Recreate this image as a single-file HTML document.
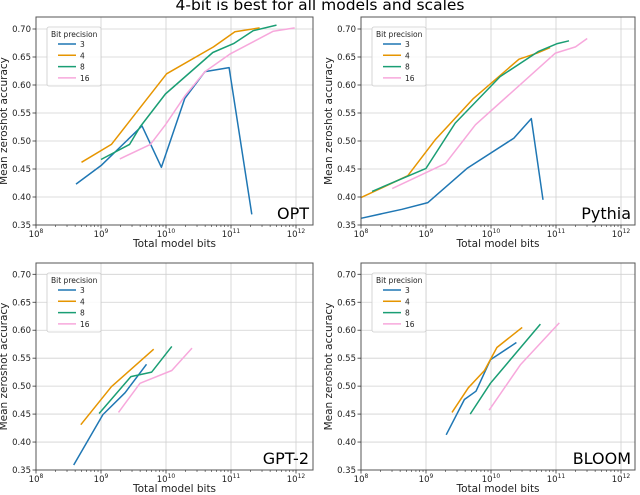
<!DOCTYPE html>
<html><head><meta charset="utf-8"><style>
body{margin:0;background:#fff;}
svg{display:block;font-family:"DejaVu Sans","Liberation Sans",sans-serif;}
</style></head><body>
<svg id="fig" width="640" height="495" viewBox="0 0 640 495" xmlns="http://www.w3.org/2000/svg">
<text x="320" y="10" text-anchor="middle" font-size="15.5" fill="#000">4-bit is best for all models and scales</text>
</svg>
<script>
// x values are log10(total model bits)
const seriesNames = ["3","4","8","16"];
const seriesColors = ["#1f77b4","#e69500","#1a9e74","#f7a8dc"];
const yTicks = [0.35,0.40,0.45,0.50,0.55,0.60,0.65,0.70];
const xTicks = [8,9,10,11,12];

const optX3 = [8.615,9.01,9.63,9.93,10.29,10.6,10.97,11.32];
const optY3 = [0.423,0.457,0.527,0.453,0.576,0.624,0.631,0.369];
const optX4 = [8.70,9.16,10.01,10.73,11.06,11.44];
const optY4 = [0.462,0.494,0.620,0.668,0.695,0.702];
const optX8 = [9.0,9.44,9.6,9.99,10.72,11.04,11.34,11.7];
const optY8 = [0.467,0.494,0.525,0.584,0.658,0.674,0.697,0.707];
const optX16 = [9.29,9.76,9.99,10.3,10.6,10.98,11.65,11.98];
const optY16 = [0.468,0.494,0.529,0.582,0.624,0.655,0.696,0.702];

const pyX3 = [8.0,8.63,9.03,9.63,10.35,10.62,10.8];
const pyY3 = [0.362,0.378,0.390,0.451,0.505,0.540,0.395];
const pyX4 = [8.0,8.72,9.14,9.73,10.43,10.71,10.91];
const pyY4 = [0.399,0.438,0.502,0.576,0.646,0.657,0.667];
const pyX8 = [8.17,9.0,9.45,10.14,10.73,11.02,11.2];
const pyY8 = [0.410,0.451,0.532,0.615,0.660,0.674,0.679];
const pyX16 = [8.48,9.3,9.76,10.99,11.3,11.48];
const pyY16 = [0.415,0.460,0.529,0.657,0.668,0.683];

const gpX3 = [8.58,9.03,9.37,9.70];
const gpY3 = [0.359,0.449,0.488,0.539];
const gpX4 = [8.69,9.16,9.81];
const gpY4 = [0.431,0.499,0.566];
const gpX8 = [8.97,9.46,9.78,10.09];
const gpY8 = [0.451,0.517,0.525,0.571];
const gpX16 = [9.27,9.6,10.09,10.4];
const gpY16 = [0.453,0.505,0.528,0.568];

const blX3 = [9.31,9.59,9.77,9.99,10.39];
const blY3 = [0.413,0.476,0.491,0.547,0.578];
const blX4 = [9.4,9.65,9.9,10.09,10.48];
const blY4 = [0.453,0.497,0.528,0.569,0.605];
const blX8 = [9.68,9.99,10.76];
const blY8 = [0.450,0.505,0.611];
const blX16 = [9.97,10.45,11.05];
const blY16 = [0.457,0.538,0.613];

const NS = "http://www.w3.org/2000/svg";
const svg = document.getElementById("fig");
function mk(tag, attrs, parent){
  const e = document.createElementNS(NS, tag);
  for (const k in attrs) e.setAttribute(k, attrs[k]);
  (parent||svg).appendChild(e);
  return e;
}

const panels = [
  {id:"opt", label:"OPT", L:36, R:313, T:17, B:225, x8:36, dec:65, y70:29, y35:225,
   xs:[optX3,optX4,optX8,optX16], ys:[optY3,optY4,optY8,optY16], leg:[47,27]},
  {id:"pythia", label:"Pythia", L:361, R:635, T:17, B:225, x8:361, dec:65, y70:29, y35:225,
   xs:[pyX3,pyX4,pyX8,pyX16], ys:[pyY3,pyY4,pyY8,pyY16], leg:[372,27]},
  {id:"gpt2", label:"GPT-2", L:36, R:313, T:263, B:470, x8:36, dec:65, y70:274.3, y35:470,
   xs:[gpX3,gpX4,gpX8,gpX16], ys:[gpY3,gpY4,gpY8,gpY16], leg:[47,273]},
  {id:"bloom", label:"BLOOM", L:361, R:635, T:263, B:470, x8:361, dec:65, y70:274.3, y35:470,
   xs:[blX3,blX4,blX8,blX16], ys:[blY3,blY4,blY8,blY16], leg:[372,273]}
];

panels.forEach(p=>{
  const g = mk("g",{});
  
  
  const sx = v => p.x8 + (v-8)*p.dec;
  const sy = v => p.y35 - (v-0.35)/0.35*(p.y35-p.y70);
  xTicks.forEach(t=>{
    const x = sx(t);
    if (x > p.L+0.5 && x < p.R) {
      const gl = mk("line",{x1:x,x2:x,y1:p.T,y2:p.B,stroke:"#d0d0d0","stroke-width":0.8},g);
      
      
    }
  });
  yTicks.forEach(t=>{
    const y = sy(t);
    if (y < p.B-0.5) {
      const gl = mk("line",{x1:p.L,x2:p.R,y1:y,y2:y,stroke:"#d0d0d0","stroke-width":0.8},g);
      
      
    }
  });
  p.xs.forEach((xa,i)=>{
    const pts = xa.map((v,j)=>sx(v).toFixed(1)+","+sy(p.ys[i][j]).toFixed(1)).join(" ");
    const pl = mk("polyline",{points:pts,fill:"none",stroke:seriesColors[i],"stroke-width":1.5,"stroke-linejoin":"round"},g);
    
    
  });
  const fr = mk("rect",{x:p.L,y:p.T,width:p.R-p.L,height:p.B-p.T,fill:"none",stroke:"#555","stroke-width":1},g);
  
  
  xTicks.forEach(t=>{
    const x = sx(t);
    mk("line",{x1:x,x2:x,y1:p.B,y2:p.B+3.5,stroke:"#333","stroke-width":0.8},g);
    const tx = mk("text",{x:x,y:p.B+12,"text-anchor":"middle","font-size":8.5,fill:"#222"},g);
    
    
    tx.textContent = "10";
    const sup = mk("tspan",{dy:-4,"font-size":6},tx);
    sup.textContent = String(t);
    for (let m=2;m<=9;m++){
      const xm = sx(t+Math.log10(m));
      if (xm < p.R) mk("line",{x1:xm,x2:xm,y1:p.B,y2:p.B+2,stroke:"#333","stroke-width":0.6},g);
    }
  });
  yTicks.forEach(t=>{
    const y = sy(t);
    mk("line",{x1:p.L-3.5,x2:p.L,y1:y,y2:y,stroke:"#333","stroke-width":0.8},g);
    const ty = mk("text",{x:p.L-5,y:y+3,"text-anchor":"end","font-size":8.5,fill:"#222"},g);
    
    
    ty.textContent = t.toFixed(2);
  });
  const xt = mk("text",{x:(p.L+p.R)/2,y:p.B+22,"text-anchor":"middle","font-size":10.5,fill:"#222"},g);
  
  
  xt.textContent = "Total model bits";
  const yx = p.L-29, yy=(p.T+p.B)/2;
  const yt = mk("text",{x:yx,y:yy,"text-anchor":"middle","font-size":10.5,fill:"#222",transform:"rotate(-90 "+yx+" "+yy+")"},g);
  
  
  yt.textContent = "Mean zeroshot accuracy";
  const ml = mk("text",{x:p.R-4,y:p.B-6,"text-anchor":"end","font-size":16,fill:"#000"},g);
  
  
  ml.textContent = p.label;
  const lx = p.leg[0], ly = p.leg[1];
  const lg = mk("g",{},g);
  
  
  mk("rect",{x:lx,y:ly,width:54,height:59,fill:"#fff","fill-opacity":0.85,stroke:"#ccc","stroke-width":0.8,rx:2},lg);
  const lt = mk("text",{x:lx+4,y:ly+10,"font-size":7.5,fill:"#222"},lg);
  
  
  lt.textContent = "Bit precision";
  seriesNames.forEach((n,i)=>{
    const ry = ly+17+i*11.3;
    const le = mk("g",{},lg);
    
    
    mk("line",{x1:lx+11,x2:lx+29,y1:ry,y2:ry,stroke:seriesColors[i],"stroke-width":1.5},le);
    const t = mk("text",{x:lx+33,y:ry+3,"font-size":7.5,fill:"#222"},le);
    t.textContent = n;
  });
});
</script>
</body></html>
